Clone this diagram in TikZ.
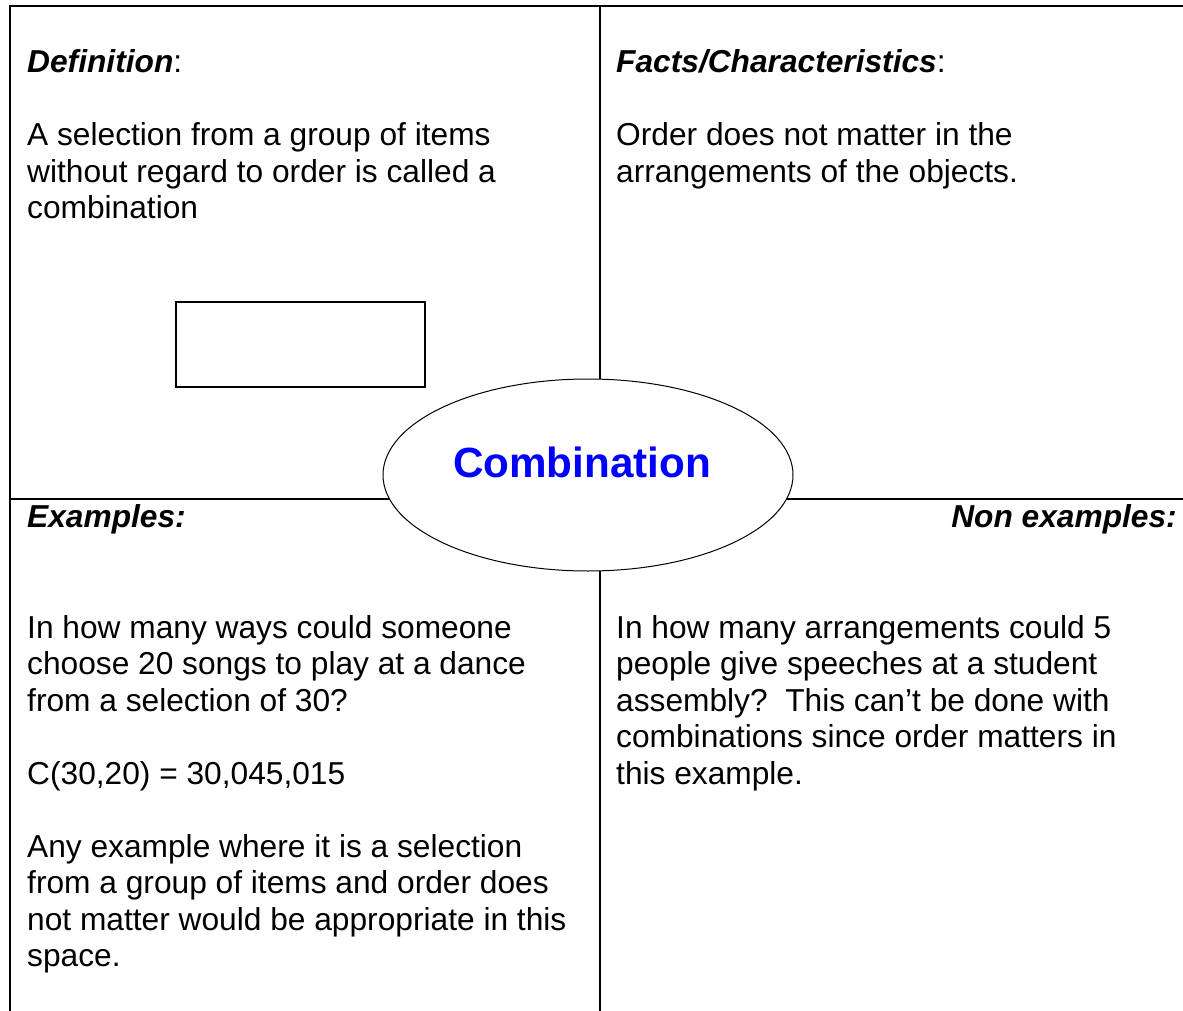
\documentclass[tikz,border=0pt]{standalone}
\usepackage{fontspec}
\setmainfont{Liberation Sans}
\usetikzlibrary{shapes.geometric}
\definecolor{titleblue}{RGB}{0,0,255}
\newcommand\bodyfont{\fontsize{31.7}{36.5}\selectfont}
\newcommand\para[2]{\parbox[t]{#1}{\raggedright\bodyfont #2}}
\begin{document}
\begin{tikzpicture}[x=1pt,y=-1pt,
  rule/.style={line width=2pt},
  txt/.style={anchor=base west, inner sep=0pt, font=\bodyfont},
  label/.style={anchor=base west, inner sep=0pt, font=\bodyfont}]
\useasboundingbox (0,0) rectangle (1183,1011);

% frame and quadrant dividers
\coordinate (frameBL) at (10,1011);
\coordinate (frameTL) at (10,6);
\coordinate (frameTR) at (1183,6);
\coordinate (midTop) at (600,6);
\coordinate (midBot) at (600,1011);
\coordinate (midL) at (10,499);
\coordinate (midR) at (1183,499);
\draw[rule] (frameBL) -- (frameTL) -- (frameTR);
\draw[rule] (midTop) -- (midBot);
\draw[rule] (midL) -- (midR);

% empty box in the definition quadrant
\node[draw, rule, minimum width=249pt, minimum height=85pt, inner sep=0pt] (blank) at (300.5,344.5) {};

% central term
\node[ellipse, draw, fill=white, line width=1pt, minimum width=410pt, minimum height=192pt, inner sep=0pt] (hub) at (588,475) {};
\node[anchor=base, inner sep=0pt, text=titleblue, font=\fontsize{42.2}{48}\selectfont\bfseries] (title) at (582,477) {Combination};

% quadrant headings
\node[label] (defHead) at (27,73) {\textbf{\textit{Definition}}:};
\node[label] (factHead) at (616,73) {\textbf{\textit{Facts/Characteristics}}:};
\node[label] (exHead) at (27,527) {\textbf{\textit{Examples:}}};
\node[label, anchor=base east] (nonHead) at (1177,527) {\textbf{\textit{Non examples:}}};

% quadrant contents
\node[txt] (defText) at (27,146) {\para{570pt}{A selection from a group of items\\
without regard to order is called a\\
combination}};
\node[txt] (factText) at (616,146) {\para{565pt}{Order does not matter in the\\
arrangements of the objects.}};
\node[txt] (exText) at (27,638) {\para{570pt}{In how many ways could someone\\
choose 20 songs to play at a dance\\
from a selection of 30?\\[36.5pt]
C(30,20) = 30,045,015\\[36.5pt]
Any example where it is a selection\\
from a group of items and order does\\
not matter would be appropriate in this\\
space.}};
\node[txt] (nonText) at (616,638) {\para{565pt}{In how many arrangements could 5\\
people give speeches at a student\\
assembly?\ \ This can’t be done with\\
combinations since order matters in\\
this example.}};
\end{tikzpicture}
\end{document}
